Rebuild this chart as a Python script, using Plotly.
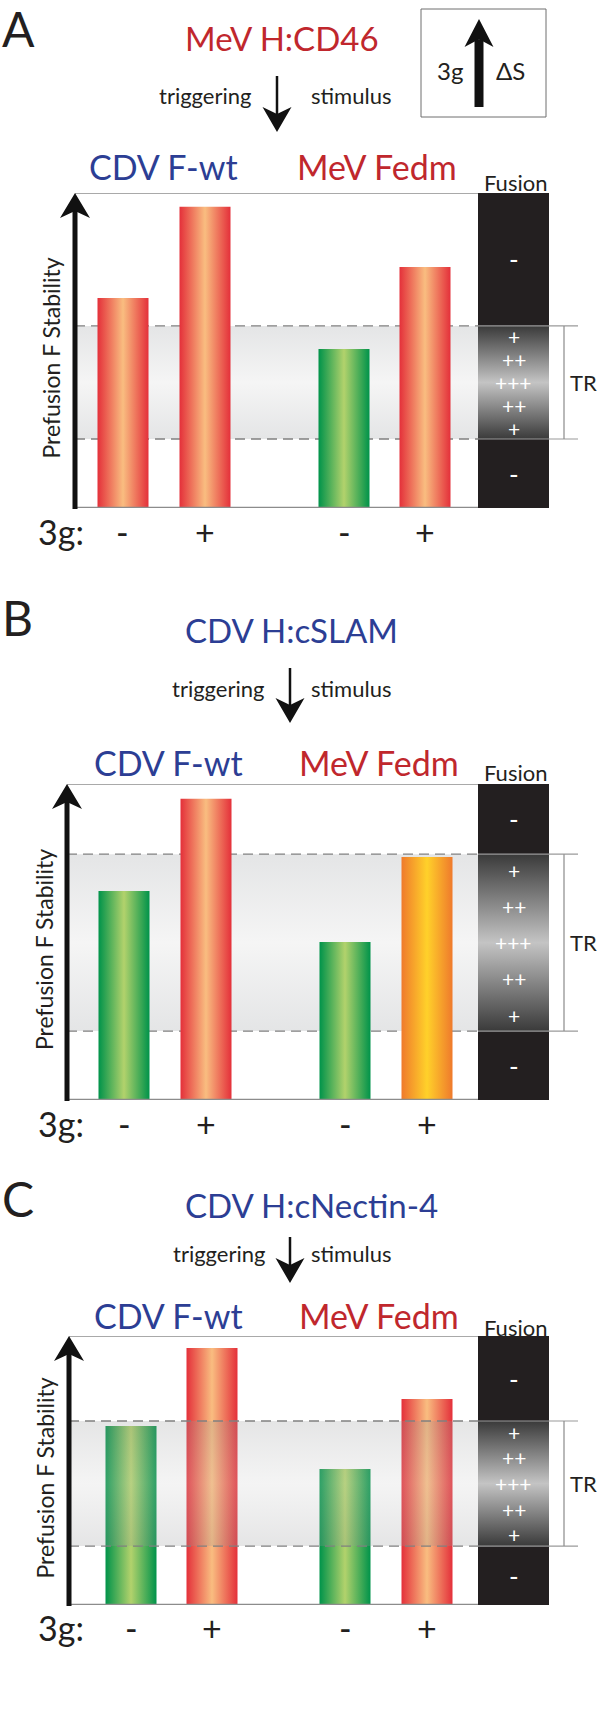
"""Prefusion F stability schematic: three receptor panels, 3g on/off bars, fusion column."""

import plotly.graph_objects as go

W, H = 600, 1733
FONT = "Lato"

# ---- data -------------------------------------------------------------
PANELS = ["A", "B", "C"]
RECEPTORS = ["MeV H:CD46", "CDV H:cSLAM", "CDV H:cNectin-4"]
RECEPTOR_VIRUS = ["MeV", "CDV", "CDV"]
GROUPS = ["CDV F-wt", "MeV Fedm"]
THREE_G = ["-", "+", "-", "+"]

STAB_A = [0.667, 0.956, 0.505, 0.765]
STAB_B = [0.661, 0.953, 0.500, 0.769]
STAB_C = [0.665, 0.955, 0.506, 0.766]
STABILITY = [STAB_A, STAB_B, STAB_C]

TONE_A = ["red", "red", "green", "red"]
TONE_B = ["green", "red", "green", "orange"]
TONE_C = ["green", "red", "green", "red"]
TONES = [TONE_A, TONE_B, TONE_C]

TR_LOW = [0.219, 0.218, 0.219]
TR_HIGH = [0.578, 0.778, 0.684]
FUSION_IN = ["+", "++", "+++", "++", "+"]
FUSION_OUT = "-"

# ---- layout geometry (pixels) ----------------------------------------
TOP = [193, 784, 1336]
BOT = [508, 1100, 1605]
AXIS_X = [75, 67, 69]
BAR_X = [[123, 205, 344, 425], [124, 206, 345, 427], [131, 212, 345, 427]]
BAR_W = 51
BOX = (478, 549)
LETTER_Y = [28, 617, 1198]
TITLE_Y = [38, 630, 1205]
TRIG_Y = [95, 688, 1253]
TRIG_TEXT_X = [(253, 309), (266, 309), (267, 309)]
TRIG_ARROW_X = [277, 290, 290]
TRIG_ARROW_Y = [(76, 132), (668, 723), (1237, 1283)]
GROUP_Y = [166, 762, 1315]
GROUP_X = [(163, 377), (168, 379), (168, 379)]
FUSION_Y = [182, 772, 1327]
G3_Y = [531, 1123, 1627]
YLAB_X = [50, 44, 44]

RED_TXT = "#c0272d"
BLUE_TXT = "#2c3e94"
VIRUS_COLOR = {"MeV": RED_TXT, "CDV": BLUE_TXT}
GROUP_COLORS = [BLUE_TXT, RED_TXT]

SCALES = {
    "red": [[0, "#e4303a"], [0.5, "#f9bd80"], [1, "#e4303a"]],
    "green": [[0, "#00934a"], [0.5, "#b2d26c"], [1, "#00934a"]],
    "orange": [[0, "#ef7a2c"], [0.5, "#ffd12a"], [1, "#ef7a2c"]],
}
BAND_SCALE = [[0, "#e4e5e6"], [0.5, "#f5f5f5"], [1, "#e4e5e6"]]
BAND_OVER_SCALE = [[0, "rgba(150,151,153,0.25)"], [0.5, "rgba(205,205,205,0.22)"],
                   [1, "rgba(150,151,153,0.25)"]]
BOX_SCALE = [[0, "#3a3a3a"], [0.5, "#c4c4c4"], [1, "#3a3a3a"]]


def px(x):
    return x / W


def py(y):
    return 1 - y / H


def arrow(x, y_tail, y_head, shaft, head_w, head_len, color="#111111"):
    d = 1 if y_head > y_tail else -1
    base = y_head - d * head_len
    notch = y_head - d * head_len * 0.72
    line = dict(type="line", xref="paper", yref="paper",
                x0=px(x), x1=px(x), y0=py(y_tail), y1=py(notch),
                line=dict(color=color, width=shaft))
    head = dict(type="path", xref="paper", yref="paper",
                path=(f"M{px(x)},{py(y_head)} L{px(x + head_w / 2)},{py(base)} "
                      f"L{px(x)},{py(notch)} L{px(x - head_w / 2)},{py(base)} Z"),
                fillcolor=color, line=dict(color=color, width=0))
    return [line, head]


fig = go.Figure()
shapes = []
annos = []


def text(x, y, s, size, color="#231f20", **kw):
    annos.append(dict(x=px(x), y=py(y), xref="paper", yref="paper", text=s,
                      showarrow=False, font=dict(family=FONT, size=size, color=color),
                      xanchor=kw.pop("xanchor", "center"), yanchor=kw.pop("yanchor", "middle"),
                      **kw))


for p in range(3):
    xa, ya = f"x{p + 1}", f"y{p + 1}"
    ax_x = AXIS_X[p]
    lo, hi = TR_LOW[p], TR_HIGH[p]

    def add_rect(x0, x1, y0, y1, scale, kind):
        fig.add_trace(go.Scatter(
            x=[x0, x1, x1, x0, x0], y=[y0, y0, y1, y1, y0], fill="toself", mode="lines",
            line=dict(width=0, color="rgba(0,0,0,0)"),
            fillgradient=dict(type=kind, colorscale=scale),
            xaxis=xa, yaxis=ya, hoverinfo="skip", showlegend=False))

    def add_dashes():
        for lvl in (lo, hi):
            fig.add_trace(go.Scatter(
                x=[ax_x, BOX[0]], y=[lvl, lvl], mode="lines",
                line=dict(color="#808080", width=1.3, dash="10px,6px"),
                xaxis=xa, yaxis=ya, hoverinfo="skip", showlegend=False))

    def add_bars():
        for cx, v, tone in zip(BAR_X[p], STABILITY[p], TONES[p]):
            add_rect(cx - BAR_W / 2, cx + BAR_W / 2, 0, v, SCALES[tone], "horizontal")

    if p < 2:
        add_rect(ax_x, BOX[0], lo, hi, BAND_SCALE, "vertical")
        add_dashes()
        add_bars()
    else:
        # in panel C the threshold band sits over the bars
        add_bars()
        add_rect(ax_x, BOX[0], lo, hi, BAND_OVER_SCALE, "vertical")
        add_dashes()

    # fusion column
    shapes.append(dict(type="rect", xref=xa, yref=ya, x0=BOX[0], x1=BOX[1], y0=0, y1=1,
                       fillcolor="#231f20", line=dict(width=0), layer="below"))
    add_rect(BOX[0], BOX[1], lo, hi, BOX_SCALE, "vertical")

    # frame lines
    shapes.append(dict(type="line", xref=xa, yref=ya, x0=ax_x, x1=BOX[0], y0=1, y1=1,
                       line=dict(color="#8c8c8c", width=1.5)))
    shapes.append(dict(type="line", xref=xa, yref=ya, x0=ax_x, x1=BOX[0], y0=0, y1=0,
                       line=dict(color="#8c8c8c", width=2.5)))
    # TR bracket
    for lvl in (lo, hi):
        shapes.append(dict(type="line", xref=xa, yref=ya, x0=BOX[0], x1=578, y0=lvl, y1=lvl,
                           line=dict(color="#9a9a9a", width=1.2)))
    shapes.append(dict(type="line", xref=xa, yref=ya, x0=564, x1=564, y0=lo, y1=hi,
                       line=dict(color="#8a8a8a", width=1.2)))
    annos.append(dict(x=599, y=(lo + hi) / 2, xref=xa, yref=ya, text="TR", showarrow=False,
                      xanchor="right",
                      font=dict(family=FONT, size=22, color="#231f20")))

    # fusion marks
    box_cx = (BOX[0] + BOX[1]) / 2
    for yv in ((hi + 1) / 2, lo / 2):
        annos.append(dict(x=box_cx, y=yv, xref=xa, yref=ya, text=FUSION_OUT, showarrow=False,
                          font=dict(family=FONT, size=26, color="white")))
    for k, s in enumerate(FUSION_IN):
        frac = 0.91 - k * 0.205
        annos.append(dict(x=box_cx, y=lo + frac * (hi - lo), xref=xa, yref=ya, text=s,
                          showarrow=False, font=dict(family=FONT, size=21, color="white")))

    # axis arrow
    shapes.extend(arrow(ax_x, BOT[p] + 1, TOP[p], 5, 30, 25))
    text(YLAB_X[p], (TOP[p] + BOT[p]) / 2 + 8, "Prefusion F Stability", 23, textangle=-90)

    # headings
    text(0, LETTER_Y[p], PANELS[p], 48, xanchor="left")
    text(183, TITLE_Y[p], RECEPTORS[p], 33, VIRUS_COLOR[RECEPTOR_VIRUS[p]], xanchor="left")
    text(TRIG_TEXT_X[p][0], TRIG_Y[p], "triggering", 22, xanchor="right")
    text(TRIG_TEXT_X[p][1], TRIG_Y[p], "stimulus", 22, xanchor="left")
    shapes.extend(arrow(TRIG_ARROW_X[p], TRIG_ARROW_Y[p][0], TRIG_ARROW_Y[p][1], 2.5, 29, 25))
    for g, gx, gc in zip(GROUPS, GROUP_X[p], GROUP_COLORS):
        text(gx, GROUP_Y[p], g, 34, gc)
    text(515, FUSION_Y[p], "Fusion", 22)

    # 3g row
    text(61, G3_Y[p], "3g:", 34)
    for cx, s in zip(BAR_X[p], THREE_G):
        text(cx, G3_Y[p], s, 34)

# key box in panel A
shapes.append(dict(type="rect", xref="paper", yref="paper", x0=px(421), x1=px(546),
                   y0=py(117), y1=py(9), line=dict(color="#6e6e6e", width=1)))
shapes.extend(arrow(479, 107, 19, 9, 29, 28))
text(450, 70, "3g", 24)
text(510, 70, "\u0394S", 24)

layout = dict(
    width=W, height=H, margin=dict(l=0, r=0, t=0, b=0),
    paper_bgcolor="white", plot_bgcolor="rgba(0,0,0,0)",
    shapes=shapes, annotations=annos, showlegend=False,
)
for p in range(3):
    layout[f"xaxis{p + 1}"] = dict(range=[0, W], domain=[0, 1], visible=False,
                                   fixedrange=True, anchor=f"y{p + 1}")
    layout[f"yaxis{p + 1}"] = dict(range=[0, 1], domain=[1 - BOT[p] / H, 1 - TOP[p] / H],
                                   visible=False, fixedrange=True, anchor=f"x{p + 1}")
fig.update_layout(**layout)

# the page body has a default 8px margin; drop it so the figure fills the window
fig.write_html("out.html", config={"displayModeBar": False},
               post_script="document.body.style.margin='0px';")
